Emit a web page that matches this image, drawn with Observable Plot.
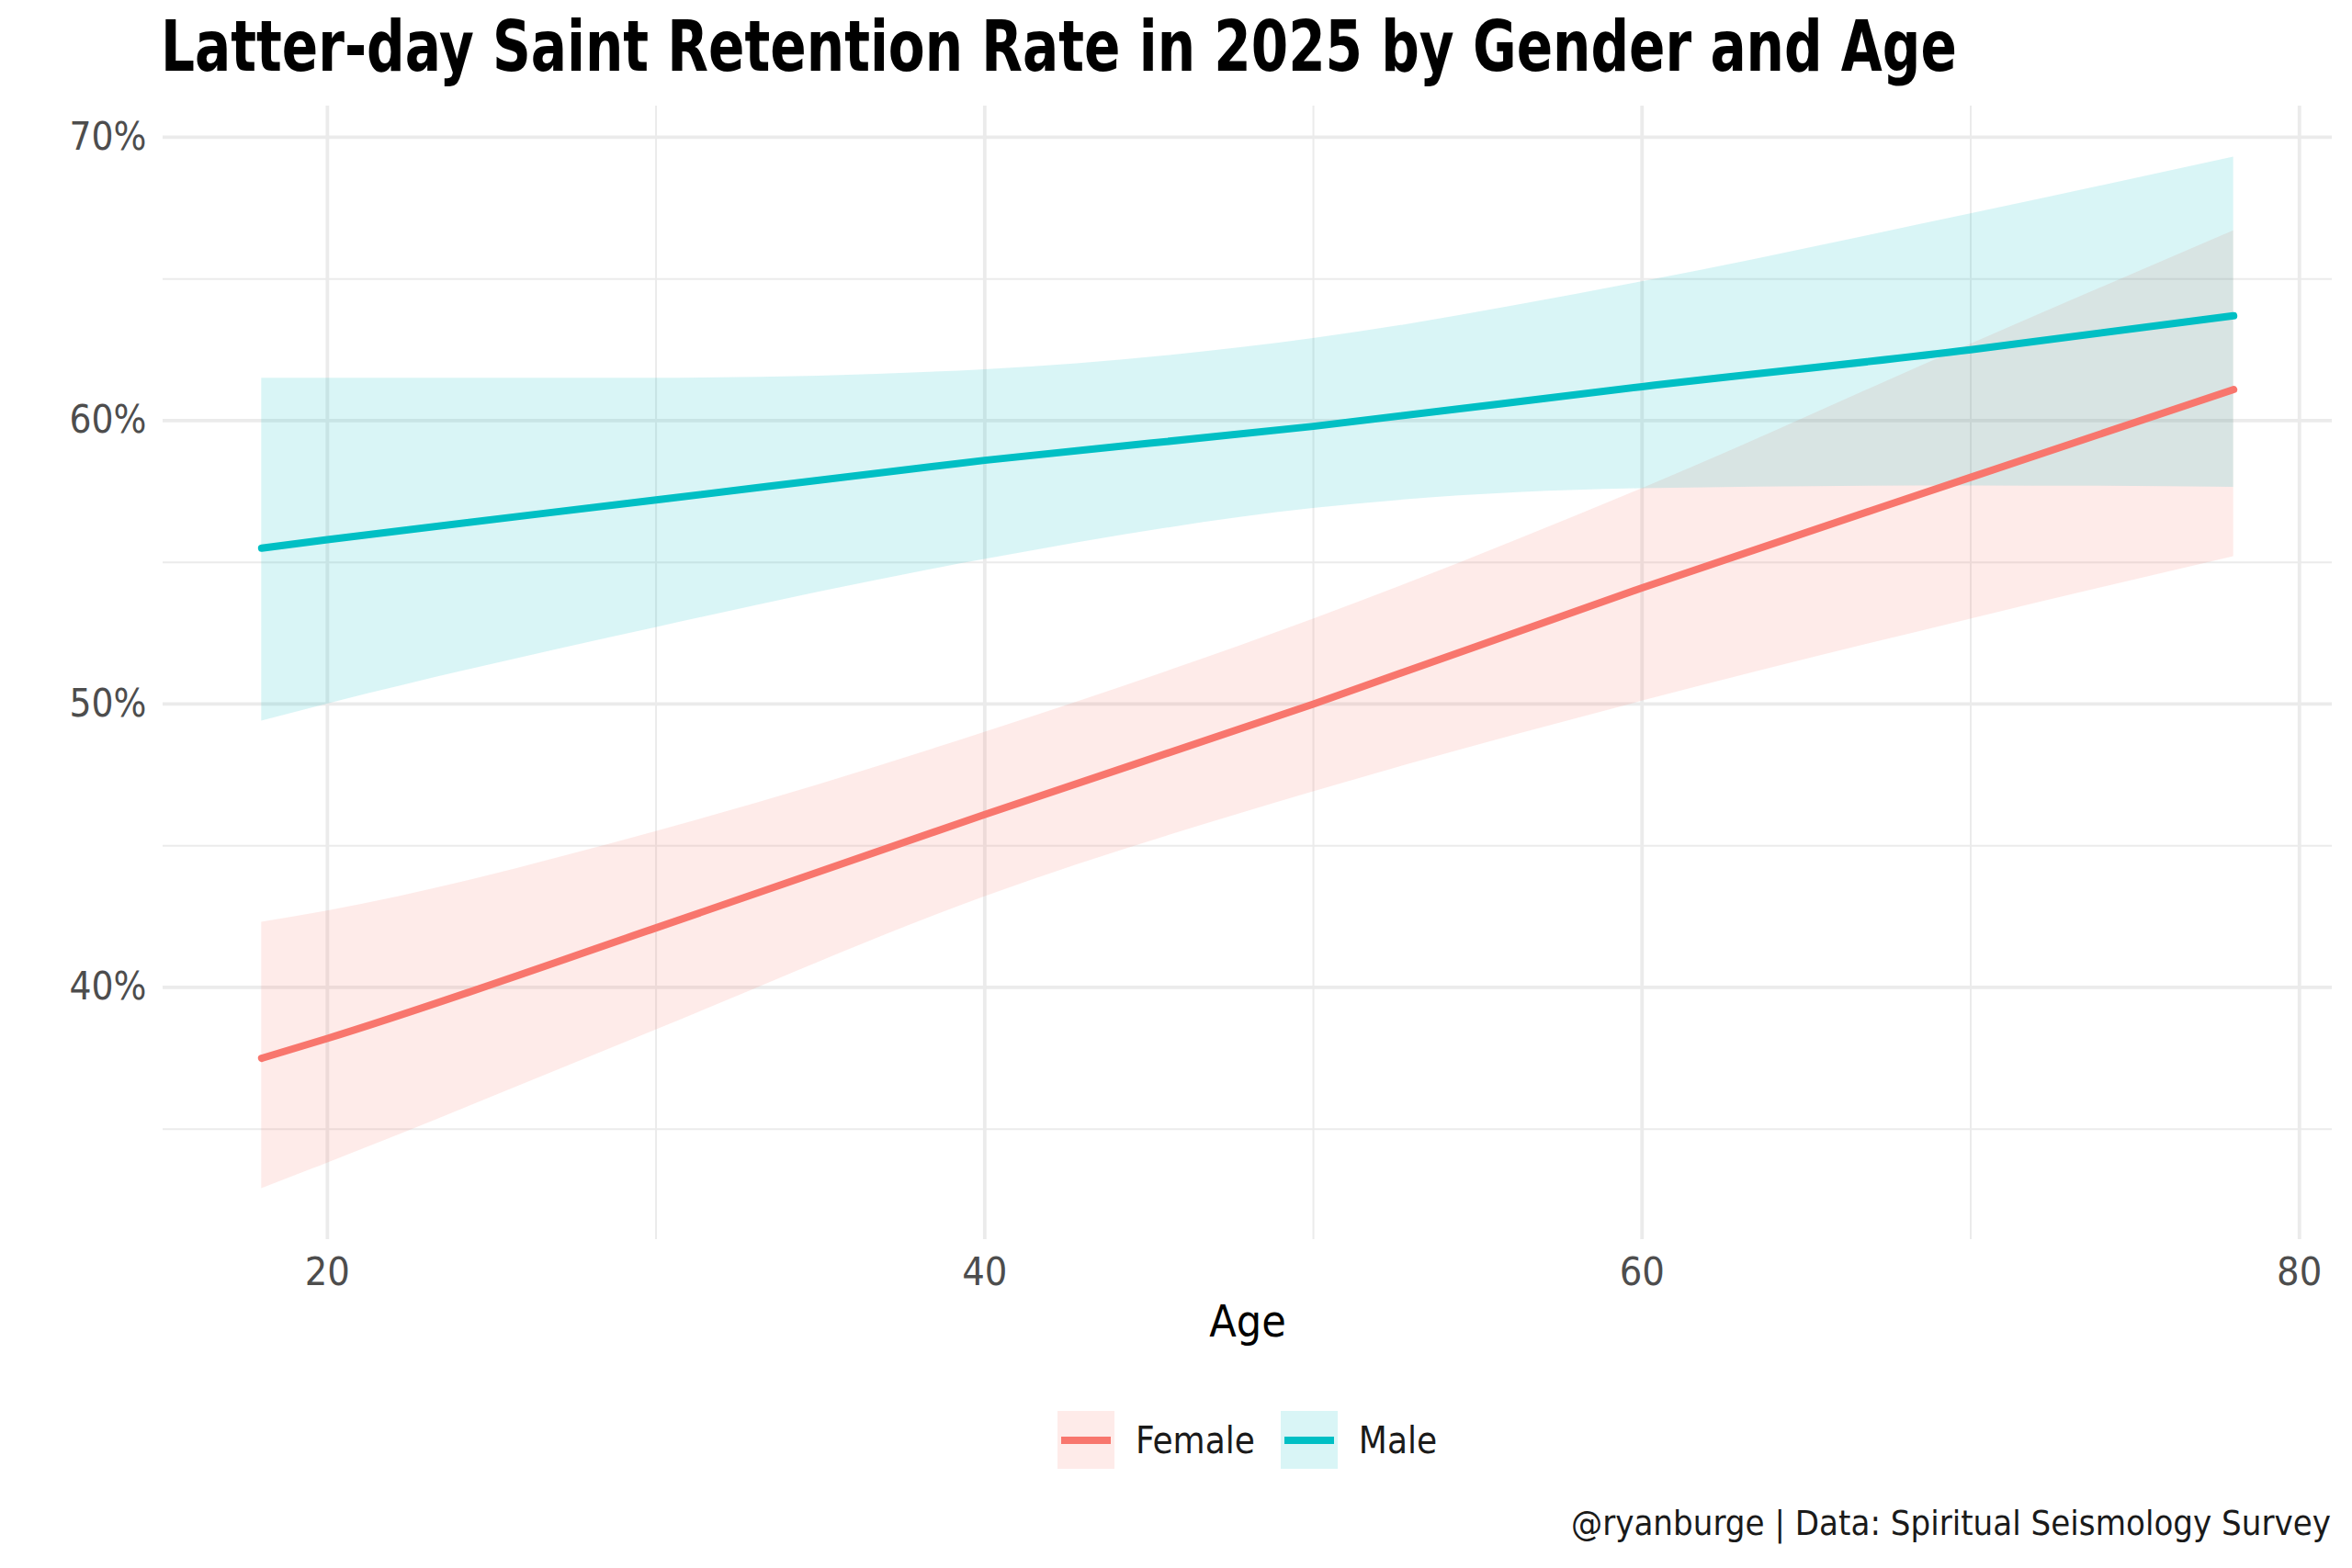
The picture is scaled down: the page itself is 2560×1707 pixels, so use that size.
<!DOCTYPE html>
<html>
<head>
<meta charset="utf-8">
<script src="https://cdn.jsdelivr.net/npm/d3@7"></script>
<script src="https://cdn.jsdelivr.net/npm/@observablehq/plot@0.6"></script>
<style>
  html, body { margin: 0; padding: 0; background: #ffffff; }
  #wrap { position: relative; width: 2560px; height: 1707px; overflow: hidden;
          font-family: "DejaVu Sans Condensed", "Liberation Sans Narrow", "Roboto", sans-serif; font-stretch: condensed; }
  #title { position: absolute; left: 175px; top: 6px; font-size: 76px; font-weight: bold; color: #000;
           line-height: 90px; white-space: nowrap; transform: scaleX(0.85); transform-origin: 0 0; }
  #chart { position: absolute; left: 0; top: 100px; }
  #legend { position: absolute; left: 177px; width: 2361px; top: 1536px; display: flex; justify-content: center; align-items: center; }
  .item { display: flex; align-items: center; margin: 0 14px; }
  .key { width: 62px; height: 63px; position: relative; }
  .key .ln { position: absolute; left: 4px; right: 4px; top: 28px; height: 8px; }
  .lab { font-size: 40px; color: #1a1a1a; margin-left: 23px; }
  #caption { position: absolute; right: 23px; top: 1636px; font-size: 38px; color: #1a1a1a; white-space: nowrap; }
</style>
</head>
<body>
<div id="wrap">
  <div id="title">Latter-day Saint Retention Rate in 2025 by Gender and Age</div>
  <div id="chart"></div>
  <div id="legend"></div>
  <div id="caption">@ryanburge | Data: Spiritual Seismology Survey</div>
</div>
<script>
// ---- data ----
const genders = ["Female", "Male"];
const genderColors = ["#F8766D", "#00BFC4"];
const ages = [18, 20, 30, 40, 50, 60, 70, 78];
const femaleFit = [37.5, 38.2, 42.1, 46.1, 50.0, 54.1, 58.0, 61.1];
const femaleLo  = [32.9, 33.8, 38.5, 43.2, 46.9, 50.1, 53.0, 55.2];
const femaleHi  = [42.3, 42.7, 45.5, 49.0, 53.0, 57.6, 62.7, 66.7];
const maleFit   = [55.5, 55.8, 57.2, 58.6, 59.8, 61.2, 62.5, 63.7];
const maleLo    = [49.4, 50.0, 52.7, 55.1, 56.9, 57.6, 57.7, 57.65];
const maleHi    = [61.5, 61.5, 61.5, 61.8, 62.9, 64.9, 67.3, 69.3];
const xMajor = [20, 40, 60, 80];
const xMinor = [30, 50, 70];
const yMajor = [40, 50, 60, 70];
const yMinor = [35, 45, 55, 65];

const rows = ages.flatMap((a, i) => [
  {age: a, gender: "Female", fit: femaleFit[i], lo: femaleLo[i], hi: femaleHi[i]},
  {age: a, gender: "Male", fit: maleFit[i], lo: maleLo[i], hi: maleHi[i]}
]);

const fontStack = '"DejaVu Sans Condensed", "Liberation Sans Narrow", "Roboto", sans-serif';

const chart = Plot.plot({
  width: 2560,
  height: 1400,
  marginTop: 15,
  marginBottom: 151,
  marginLeft: 177,
  marginRight: 22,
  style: {fontFamily: fontStack, background: "#ffffff"},
  x: {domain: [15, 81]},
  y: {domain: [31.1, 71.1]},
  color: {domain: genders, range: genderColors},
  marks: [
    Plot.gridY(yMinor, {stroke: "#EBEBEB", strokeOpacity: 1, strokeWidth: 2}),
    Plot.gridX(xMinor, {stroke: "#EBEBEB", strokeOpacity: 1, strokeWidth: 2}),
    Plot.gridY(yMajor, {stroke: "#EBEBEB", strokeOpacity: 1, strokeWidth: 3.8}),
    Plot.gridX(xMajor, {stroke: "#EBEBEB", strokeOpacity: 1, strokeWidth: 3.8}),
    Plot.areaY(rows, {x: "age", y1: "lo", y2: "hi", z: "gender", fill: "gender", fillOpacity: 0.15, curve: "monotone-x"}),
    Plot.lineY(rows, {x: "age", y: "fit", z: "gender", stroke: "gender", strokeWidth: 8, curve: "monotone-x"}),
    Plot.axisY(yMajor, {tickSize: 0, tickPadding: 18, tickFormat: d => d + "%", fontSize: 42, color: "#4D4D4D", label: null}),
    Plot.axisX(xMajor, {tickSize: 0, tickPadding: 19, fontSize: 43, color: "#4D4D4D", label: null}),
    Plot.text(["Age"], {frameAnchor: "bottom", dy: 90, fontSize: 48, fill: "#000", lineAnchor: "middle"})
  ]
});
document.getElementById("chart").appendChild(chart);

// legend
const legend = document.getElementById("legend");
genders.forEach((g, i) => {
  const c = d3.color(genderColors[i]);
  const item = document.createElement("div");
  item.className = "item";
  const key = document.createElement("div");
  key.className = "key";
  const bg = d3.color(genderColors[i]); bg.opacity = 0.15;
  key.style.background = bg.formatRgb();
  const ln = document.createElement("div");
  ln.className = "ln";
  ln.style.background = c.formatHex();
  key.appendChild(ln);
  const lab = document.createElement("div");
  lab.className = "lab";
  lab.textContent = g;
  item.appendChild(key);
  item.appendChild(lab);
  legend.appendChild(item);
});
</script>
</body>
</html>
